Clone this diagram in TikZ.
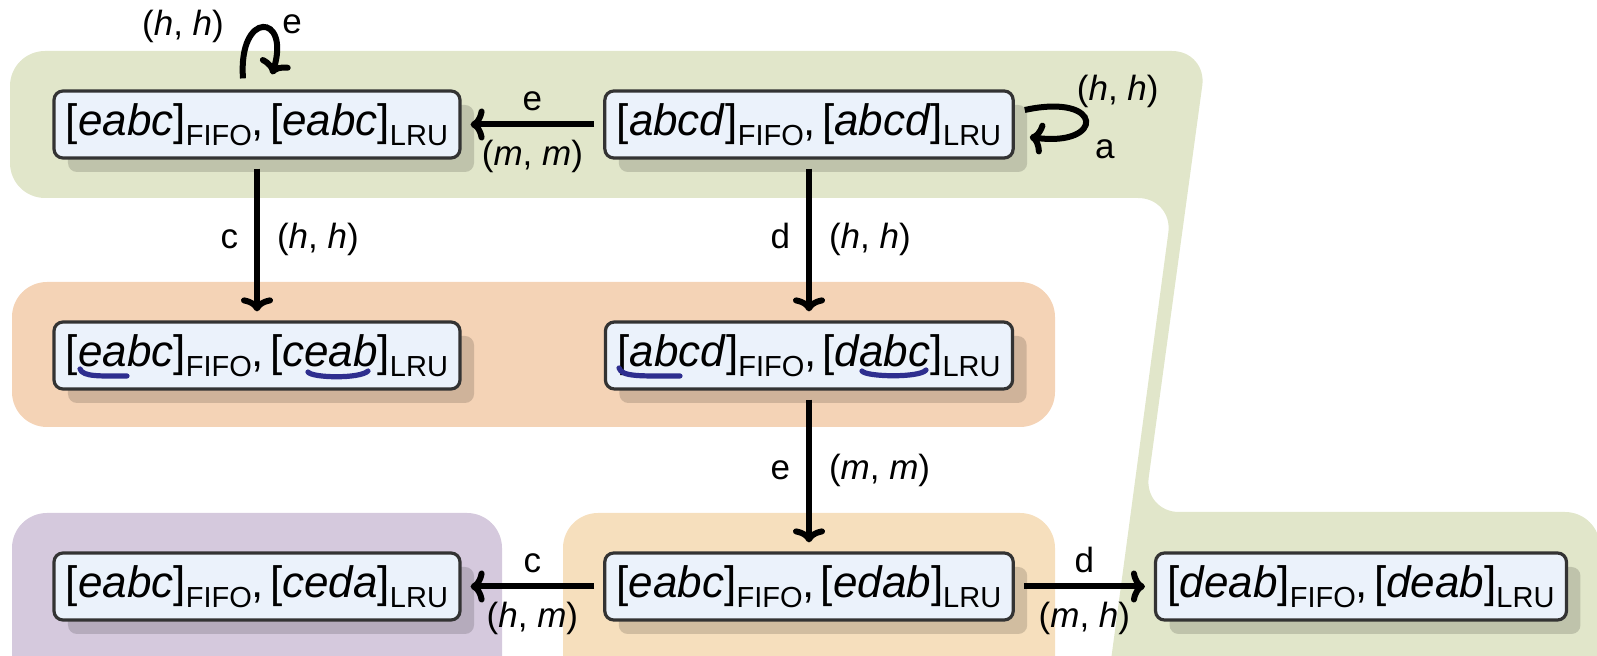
\documentclass[tikz,border=0pt]{standalone}
\usepackage{fontspec}
\setmainfont{Liberation Sans}
\usetikzlibrary{arrows.meta,calc,shadows}

\definecolor{grpgreen}{RGB}{225,230,202}
\definecolor{grporange}{RGB}{244,211,182}
\definecolor{grpsand}{RGB}{246,223,189}
\definecolor{grppurple}{RGB}{213,201,221}
\definecolor{boxfill}{RGB}{235,242,251}
\definecolor{boxline}{RGB}{51,51,51}
\definecolor{penblue}{RGB}{46,46,143}

\newcommand\mainsize{\fontsize{22}{26}\selectfont}
\newcommand\subsize{\fontsize{14.5}{16}\selectfont}
\newcommand\lblsize{\fontsize{17.5}{20}\selectfont}
% cache contents: [fifo]_FIFO, [lru]_LRU
\newcommand\cachepair[2]{[\textit{#1}]\lower4.8pt\hbox{\subsize FIFO},\hspace{3pt}[\textit{#2}]\lower4.8pt\hbox{\subsize LRU}}

\tikzset{
  cfgbox/.style={draw=boxline, line width=1.6pt, fill=boxfill, rounded corners=4.5pt,
    inner xsep=6pt, inner ysep=0pt, minimum height=33.5pt, font=\mainsize,
    drop shadow={shadow xshift=7pt, shadow yshift=-7pt, opacity=0.15, fill=black}},
  trans/.style={line width=3pt, -{Computer Modern Rightarrow[length=7pt,width=16pt]},
    shorten >=4.5pt, shorten <=4.5pt},
  selfloop/.style={line width=3pt, -{Computer Modern Rightarrow[length=7pt,width=16pt]}},
  lbl/.style={inner sep=0pt, font=\lblsize},
  hilite/.style={draw=penblue, line width=2.6pt, line cap=round},
}

\begin{document}
\begin{tikzpicture}[x=0.5pt, y=-0.5pt]
\useasboundingbox (0,0) rectangle (1597,656);

% group backgrounds
\begin{scope}
\clip (0,0) rectangle (1597,656);
\fill[grpgreen, rounded corners=17.5pt]
  (10,120) -- (10,51) -- (1207,51) -- (1144,512) -- (1600,512) -- (1600,690)
  -- (1107,690) -- (1173,198) -- (10,198) -- cycle;
\fill[grporange, rounded corners=17.5pt] (12,282) rectangle (1055,427);
\fill[grppurple, rounded corners=17.5pt] (12,513) rectangle (502,700);
\fill[grpsand, rounded corners=17.5pt] (563,513) rectangle (1055,700);
\end{scope}

% states
\node[cfgbox] (A) at (257,124.5) {\cachepair{eabc}{eabc}};
\node[cfgbox] (B) at (809,124.5) {\cachepair{abcd}{abcd}};
\node[cfgbox] (C) at (257,355.5) {\cachepair{eabc}{ceab}};
\node[cfgbox] (D) at (809,355.5) {\cachepair{abcd}{dabc}};
\node[cfgbox] (E) at (809,586.5) {\cachepair{eabc}{edab}};
\node[cfgbox] (F) at (257,586.5) {\cachepair{eabc}{ceda}};
\node[cfgbox] (G) at (1361,586.5) {\cachepair{deab}{deab}};

% pen marks under the shared prefixes
\draw[hilite] ($(C)+(-177,13.5)$) .. controls ($(C)+(-174,21.5)$) and ($(C)+(-157,20.5)$) .. ($(C)+(-130,20.5)$);
\draw[hilite] ($(C)+(51,16.5)$) .. controls ($(C)+(55,22.5)$) and ($(C)+(103,23.5)$) .. ($(C)+(111,15.5)$);
\draw[hilite] ($(D)+(-190,12.5)$) .. controls ($(D)+(-187,21.5)$) and ($(D)+(-169,20.5)$) .. ($(D)+(-129,20.5)$);
\draw[hilite] ($(D)+(53,15.5)$) .. controls ($(D)+(57,21.5)$) and ($(D)+(111,22.5)$) .. ($(D)+(117,14.5)$);

% transitions
\draw[trans] (B.west) -- (A.east)
  node[midway, lbl, anchor=base, yshift=7pt] {e}
  node[midway, lbl, anchor=base, yshift=-20.5pt] {(\textit{m}, \textit{m})};
\draw[trans] (A.south) -- (C.north)
  node[midway, lbl, anchor=base east, xshift=-8pt, yshift=-4.5pt] {c}
  node[midway, lbl, anchor=base west, xshift=8.5pt, yshift=-4.5pt] {(\textit{h}, \textit{h})};
\draw[trans] (B.south) -- (D.north)
  node[midway, lbl, anchor=base east, xshift=-8pt, yshift=-4.5pt] {d}
  node[midway, lbl, anchor=base west, xshift=8.5pt, yshift=-4.5pt] {(\textit{h}, \textit{h})};
\draw[trans] (D.south) -- (E.north)
  node[midway, lbl, anchor=base east, xshift=-8pt, yshift=-4.5pt] {e}
  node[midway, lbl, anchor=base west, xshift=8.5pt, yshift=-4.5pt] {(\textit{m}, \textit{m})};
\draw[trans] (E.west) -- (F.east)
  node[midway, lbl, anchor=base, yshift=7pt] {c}
  node[midway, lbl, anchor=base, yshift=-20.5pt] {(\textit{h}, \textit{m})};
\draw[trans] (E.east) -- (G.west)
  node[midway, lbl, anchor=base, yshift=7pt] {d}
  node[midway, lbl, anchor=base, yshift=-20.5pt] {(\textit{m}, \textit{h})};

% self loops
\draw[selfloop] ($(A.north)+(-14,-11)$) .. controls ($(A.north)+(-19,-80)$) and ($(A.north)+(34,-76)$) .. ($(A.north)+(15,-15)$);
\node[lbl, anchor=base] (Ahh) at ($(A.north)+(-74,-54)$) {(\textit{h}, \textit{h})};
\node[lbl, anchor=base] (Ae) at ($(A.north)+(35,-56)$) {e};

\draw[selfloop] ($(B.east)+(10,-14.5)$) .. controls ($(B.east)+(90,-32)$) and ($(B.east)+(90,23)$) .. ($(B.east)+(15,12.5)$);
\node[lbl, anchor=base] (Bhh) at ($(B.east)+(103,-23.5)$) {(\textit{h}, \textit{h})};
\node[lbl, anchor=base] (Ba) at ($(B.east)+(90,34.5)$) {a};
\end{tikzpicture}
\end{document}
